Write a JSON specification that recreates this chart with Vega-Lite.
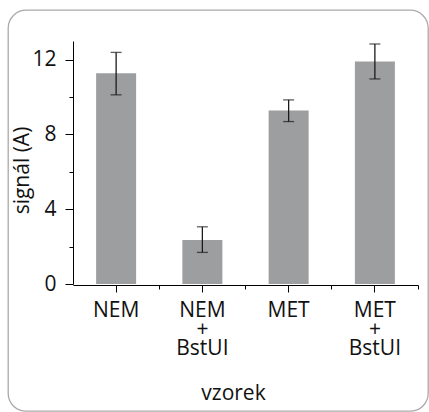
{
  "$schema": "https://vega.github.io/schema/vega-lite/v6.json",
  "width": 420,
  "height": 401,
  "padding": {"left": 8, "top": 10, "right": 1, "bottom": 1},
  "autosize": {"type": "none"},
  "config": {
    "view": {"stroke": "#a9a9a9", "strokeWidth": 1.3, "cornerRadius": 18},
    "font": "Open Sans",
    "axis": {
      "labelFont": "Open Sans",
      "titleFont": "Open Sans",
      "labelFontSize": 21,
      "titleFontSize": 21,
      "titleFontWeight": "normal",
      "labelColor": "#111",
      "titleColor": "#111",
      "domainColor": "#000",
      "tickColor": "#000",
      "domainWidth": 1,
      "tickWidth": 1,
      "grid": false
    }
  },
  "data": {
    "values": [
      {"sample": "NEM", "mean": 11.27, "lower": 10.12, "upper": 12.39},
      {"sample": "NEM+BstUI", "mean": 2.36, "lower": 1.69, "upper": 3.06},
      {"sample": "MET", "mean": 9.28, "lower": 8.69, "upper": 9.85},
      {"sample": "MET+BstUI", "mean": 11.9, "lower": 10.97, "upper": 12.84}
    ]
  },
  "resolve": {"axis": {"x": "independent", "y": "independent"}},
  "layer": [
    {
      "mark": {"type": "bar", "color": "#9d9ea0", "size": 40},
      "encoding": {
        "x": {
          "field": "sample",
          "type": "nominal",
          "sort": null,
          "scale": {"type": "band", "range": [65, 410], "paddingInner": 0, "paddingOuter": 0},
          "axis": {
            "orient": "bottom",
            "offset": -126,
            "title": "vzorek",
            "titlePadding": 24,
            "titleX": 225,
            "labelAngle": 0,
            "tickSize": 7,
            "labelPadding": 7,
            "labelLineHeight": 19,
            "labelExpr": "indexof(datum.label, '+') > 0 ? [split(datum.label, '+')[0], '+', split(datum.label, '+')[1]] : datum.label"
          }
        },
        "y": {
          "field": "mean",
          "type": "quantitative",
          "scale": {"domain": [0, 13], "range": [274, 31], "nice": false, "zero": true},
          "axis": {
            "orient": "left",
            "offset": -65,
            "title": "signál (A)",
            "titleX": -41,
            "titleY": 160,
            "titleBaseline": "bottom",
            "titleAngle": 270,
            "titleAlign": "center",
            "values": [0, 4, 8, 12],
            "tickSize": 8,
            "labelPadding": 9
          }
        }
      }
    },
    {
      "mark": {"type": "rule", "color": "#1a1a1a", "strokeWidth": 1.3},
      "encoding": {
        "x": {
          "field": "sample",
          "type": "nominal",
          "sort": null,
          "axis": {
            "orient": "bottom",
            "offset": -126,
            "title": null,
            "labels": false,
            "domain": false,
            "bandPosition": 1,
            "tickSize": 4
          }
        },
        "y": {
          "field": "lower",
          "type": "quantitative",
          "axis": {
            "orient": "left",
            "offset": -65,
            "title": null,
            "labels": false,
            "domain": false,
            "values": [2, 6, 10],
            "tickSize": 4
          }
        },
        "y2": {"field": "upper"}
      }
    },
    {
      "mark": {"type": "tick", "color": "#1a1a1a", "size": 11, "thickness": 1.3},
      "encoding": {
        "x": {"field": "sample", "type": "nominal", "sort": null, "axis": null},
        "y": {"field": "lower", "type": "quantitative", "axis": null}
      }
    },
    {
      "mark": {"type": "tick", "color": "#1a1a1a", "size": 11, "thickness": 1.3},
      "encoding": {
        "x": {"field": "sample", "type": "nominal", "sort": null, "axis": null},
        "y": {"field": "upper", "type": "quantitative", "axis": null}
      }
    }
  ]
}
